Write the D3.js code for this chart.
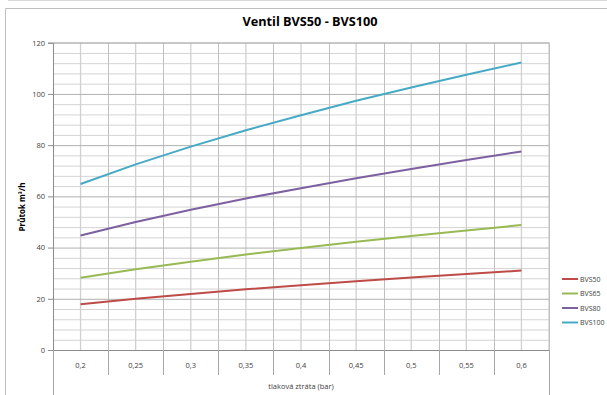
<!DOCTYPE html>
<html><head><meta charset="utf-8">
<script src="https://cdn.jsdelivr.net/npm/d3@7"></script>
<style>
body{margin:0;background:#fff;}
svg{display:block;font-family:"Open Sans","Liberation Sans",sans-serif;}
</style></head>
<body><svg id="c" width="607" height="395"></svg>
<script>
const categories = ["0,2","0,25","0,3","0,35","0,4","0,45","0,5","0,55","0,6"];
const bvs50  = [17.9, 20.0, 21.9, 23.7, 25.3, 26.8, 28.3, 29.7, 31.0];
const bvs65  = [28.2, 31.5, 34.5, 37.3, 39.8, 42.3, 44.5, 46.7, 48.8];
const bvs80  = [44.7, 50.0, 54.8, 59.2, 63.2, 67.1, 70.7, 74.2, 77.5];
const bvs100 = [64.8, 72.5, 79.4, 85.8, 91.7, 97.3, 102.5, 107.5, 112.3];
const seriesNames = ["BVS50","BVS65","BVS80","BVS100"];
const yTicks = [0,20,40,60,80,100,120];
const title = "Ventil BVS50 - BVS100";
const xTitle = "tlaková ztráta (bar)";
const yTitle = "Průtok m³/h";

const series = [
  {name:seriesNames[0], values:bvs50,  color:"#BE4B48"},
  {name:seriesNames[1], values:bvs65,  color:"#98B954"},
  {name:seriesNames[2], values:bvs80,  color:"#7D60A0"},
  {name:seriesNames[3], values:bvs100, color:"#46AAC5"}
];

const svg = d3.select("#c");
const L=53, R=549, T=42.7, B=350;
const x = d3.scaleBand().domain(categories).range([L,R]);
const y = d3.scaleLinear().domain([0,120]).range([B,T]);

// outer frame
svg.append("line").attr("x1",8).attr("x2",607).attr("y1",0.5).attr("y2",0.5).attr("stroke","#d9d9d9");
svg.append("path").attr("d",`M5.5,395V8.5H607`).attr("fill","none").attr("stroke","#bfbfbf");

// title
svg.append("text").attr("x",310).attr("y",26).attr("text-anchor","middle")
  .attr("font-size",12.7).attr("font-weight","bold").attr("fill","#000").text(title);

const g = svg.append("g");
// minor horizontal gridlines
g.append("g").attr("transform",`translate(${L},0)`)
  .call(d3.axisLeft(y).tickValues(d3.range(4,120,4).filter(v=>v%20)).tickSize(-(R-L)).tickFormat(""))
  .call(a=>{a.select(".domain").remove();a.selectAll("line").attr("stroke","#d4d4d4");});
// vertical gridlines at category centers
g.append("g").attr("transform",`translate(0,${B})`)
  .call(d3.axisBottom(x).tickSize(-(B-T)).tickFormat(""))
  .call(a=>{a.select(".domain").remove();a.selectAll("line").attr("stroke","#d0d0d0").attr("stroke-width",1.3);});
// vertical gridlines at category boundaries
const bounds = categories.map(c=>x(c)).concat([R]);
g.append("g").selectAll("line").data(bounds).join("line")
  .attr("x1",d=>Math.round(d)+0.5).attr("x2",d=>Math.round(d)+0.5)
  .attr("y1",T).attr("y2",B).attr("stroke","#c0c0c0");
// major horizontal gridlines + y axis
g.append("g").attr("transform",`translate(${L},0)`)
  .call(d3.axisLeft(y).tickValues(yTicks).tickSize(-(R-L)).tickFormat(""))
  .call(a=>{a.select(".domain").remove();a.selectAll("line").attr("stroke","#b0b0b0");});
const ya = g.append("g").attr("transform",`translate(${L},0)`)
  .call(d3.axisLeft(y).tickValues(yTicks).tickSize(5).tickPadding(3).tickFormat(d3.format("d")));
ya.select(".domain").attr("stroke","#8c8c8c");
ya.selectAll("line").attr("stroke","#8c8c8c");
ya.selectAll("text").attr("font-size",7.5).attr("fill","#404040").attr("font-family","Open Sans, sans-serif");
// plot border top/right
svg.append("path").attr("d",`M${L},${T}H${R}V${B}`).attr("fill","none").attr("stroke","#c0c0c0");

// x axis baseline and category boxes
svg.append("line").attr("x1",L).attr("x2",R).attr("y1",B+0.5).attr("y2",B+0.5).attr("stroke","#8c8c8c");
svg.append("g").selectAll("line").data(bounds).join("line")
  .attr("x1",d=>Math.round(d)+0.5).attr("x2",d=>Math.round(d)+0.5)
  .attr("y1",B).attr("y2",(d,i)=> (i===0||i===bounds.length-1)?395:375)
  .attr("stroke","#a6a6a6");
svg.append("g").selectAll("text").data(categories).join("text")
  .attr("x",d=>x(d)+x.bandwidth()/2).attr("y",368).attr("text-anchor","middle")
  .attr("font-size",7.5).attr("fill","#404040").text(d=>d);
svg.append("text").attr("x",301).attr("y",389).attr("text-anchor","middle")
  .attr("font-size",7.5).attr("fill","#404040").text(xTitle);
svg.append("text").attr("transform","translate(25,207) rotate(-90)").attr("text-anchor","middle")
  .attr("font-size",8).attr("font-weight","bold").attr("fill","#000").text(yTitle);

// lines
const line = d3.line().x((d,i)=>x(categories[i])+x.bandwidth()/2).y(d=>y(d));
svg.append("g").selectAll("path").data(series).join("path")
  .attr("d",s=>line(s.values)).attr("fill","none").attr("stroke",s=>s.color).attr("stroke-width",2);

// legend
const lg = svg.append("g").selectAll("g").data(series).join("g")
  .attr("transform",(d,i)=>`translate(562,${279+i*14.5})`);
lg.append("line").attr("x1",0).attr("x2",16).attr("stroke",d=>d.color).attr("stroke-width",2);
lg.append("text").attr("x",18).attr("y",2.6).attr("font-size",7).attr("fill","#404040").text(d=>d.name);
</script></body></html>
